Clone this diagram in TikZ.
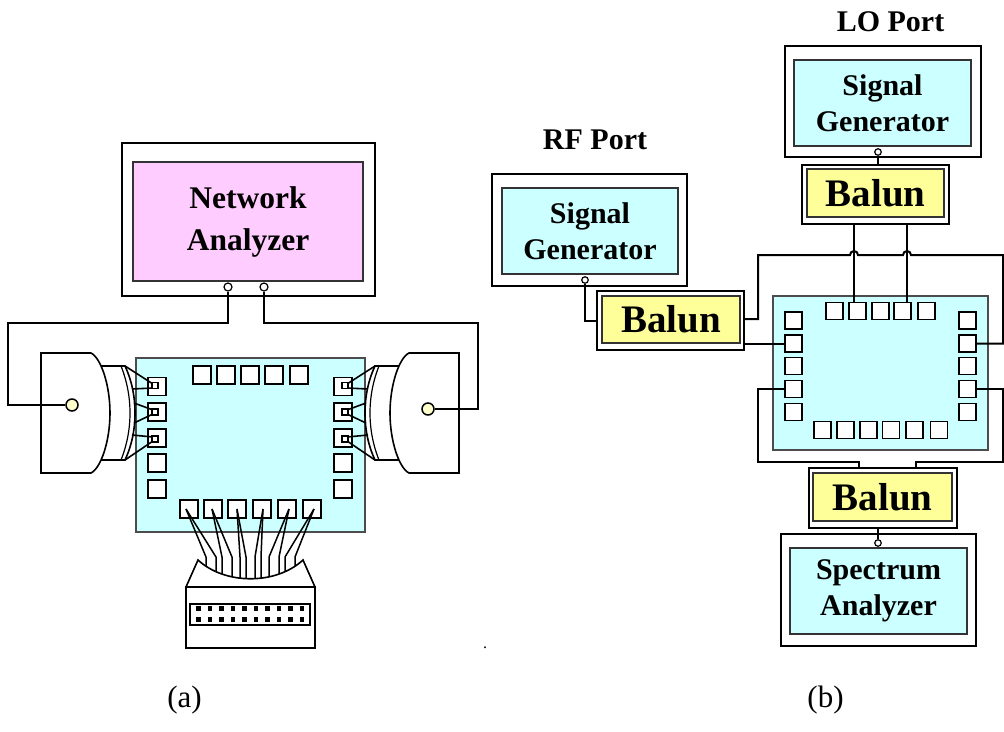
\documentclass[tikz,border=0pt]{standalone}
\usepackage{fontspec}
\setmainfont{Liberation Serif}
\definecolor{boardcyan}{HTML}{CCFFFF}
\definecolor{screenpink}{HTML}{FFCCFF}
\definecolor{balunyellow}{HTML}{FFFF99}
\definecolor{dotyellow}{HTML}{FFFFCC}

% probe head: tip with needles, then the rounded body
\newcommand\probeshape{%
  \draw[line width=1.6pt, fill=white] (95,366) -- (125,366)
     .. controls (132,381) and (135,397) .. (135,413)
     .. controls (135,429) and (132,445) .. (125,460) -- (95,460);
  \draw[line width=1.2pt] (121,366) .. controls (127,381) and (130,397) .. (130,413)
     .. controls (130,429) and (127,445) .. (121,460);
  \draw[line width=1.6pt, fill=white] (41,353) -- (91,353)
     .. controls (101,358) and (110,385) .. (110,413)
     .. controls (110,441) and (101,468) .. (91,473) -- (41,473) -- cycle;
  \draw[line width=1.6pt] (125,366) -- (153,384) (132,389) -- (153,388)
     (134,403) -- (153,410) (134,423) -- (153,414)
     (132,435) -- (153,437) (125,460) -- (153,441);
}

\begin{document}
\begin{tikzpicture}[x=1pt,y=-1pt,
  wire/.style={draw=black, line width=2pt},
  needle/.style={draw=black, line width=1.5pt},
  instframe/.style={draw=black, line width=1.3pt, fill=white, inner sep=0pt},
  screen/.style={draw=black!80, line width=1.3pt, inner sep=0pt, align=center,
     font=\bfseries\fontsize{30}{36}\selectfont},
  balunbox/.style={screen, fill=balunyellow, font=\bfseries\fontsize{39}{44}\selectfont},
  port/.style={circle, draw=black, line width=1.2pt, fill=white, minimum size=6.5pt, inner sep=0pt},
  pad/.style={draw=black, line width=1.8pt, fill=white, minimum size=17pt, inner sep=0pt},
  tinypad/.style={draw=black, line width=1.3pt, fill=white, minimum size=6pt, inner sep=0pt},
  board/.style={draw=black!70, line width=1.2pt, fill=boardcyan, inner sep=0pt},
  probedot/.style={circle, draw=black, line width=1.5pt, fill=dotyellow, minimum size=12pt, inner sep=0pt},
  labeltext/.style={font=\bfseries\fontsize{30}{36}\selectfont, inner sep=0pt},
  captiontext/.style={font=\fontsize{31}{36}\selectfont, inner sep=0pt},
]
\useasboundingbox (0,0) rectangle (1004,731);
\fill[white] (0,0) rectangle (1004,731);

% ---------------- (a) on-wafer S-parameter set-up ----------------
\node[instframe, minimum width=253pt, minimum height=153pt] (naframe) at (248.5,219.5) {};
\node[screen, fill=screenpink, minimum width=230pt, minimum height=119pt,
      font=\bfseries\fontsize{31.5}{42}\selectfont] (na) at (248,221.5) {Network\\Analyzer};
\node[port, minimum size=8pt] (naport1) at (228,287) {};
\node[port, minimum size=8pt] (naport2) at (264,287) {};

\node[board, minimum width=229pt, minimum height=174pt] (boarda) at (250.5,445) {};
\foreach \i/\y in {1/386.5,2/412,3/438,4/463,5/489} {
  \node[pad, minimum size=18pt] (aL\i) at (157,\y) {};
  \node[pad, minimum size=18pt] (aR\i) at (343,\y) {};
}
\foreach \i/\x in {1/202,2/226,3/250,4/274,5/299}
  \node[pad, minimum size=18pt] (aT\i) at (\x,375) {};
\foreach \i/\x in {1/189,2/213,3/237,4/262,5/287,6/312}
  \node[pad, minimum size=18pt] (aB\i) at (\x,509) {};

% probes
\probeshape
\begin{scope}[xshift=500pt, xscale=-1]
  \probeshape
\end{scope}
\foreach \i/\y in {1/385.5,2/412,3/439} {
  \node[tinypad] (aLn\i) at (155,\y) {};
  \node[tinypad] (aRn\i) at (345,\y) {};
}
\node[probedot] (adotL) at (72,405) {};
\node[probedot] (adotR) at (428,409) {};

\draw[wire] (naport1.south) |- (8,323) |- (adotL.west);
\draw[wire] (naport2.south) |- (478,323) |- (adotR.east);

% DC cable to the multi-pin connector
\foreach \p/\dx/\xa/\ya/\xb/\yb in {1/-3/206/565/216/571, 2/-1/222/574/232/577,
    3/0/240/579/246/579, 4/1/255/579/261/579, 5/2/269/577/279/574, 6/2/285/571/295/565} {
  \draw[needle] ([xshift=\dx pt]aB\p.center) -- (\xa,557) -- (\xa,\ya+4);
  \draw[needle] ([xshift=\dx pt]aB\p.center) -- (\xb,557) -- (\xb,\yb+4);
}
\draw[line width=1.6pt, fill=white] (186,587) -- (198,560)
   .. controls (225,585) and (276,585) .. (303,560) -- (315,587) -- cycle;
\draw[line width=1.6pt, fill=white] (186,587) rectangle (315,648);
\draw[line width=1.5pt] (190,604) rectangle (310,625);
\foreach \k in {0,...,9} {
  \fill ({196+11.55*\k},606) rectangle ++(4.5,4.5);
  \fill ({196+11.55*\k},617) rectangle ++(4.5,4.5);
}

% ---------------- (b) mixer measurement set-up ----------------
\node[labeltext] (rftitle) at (595,140) {RF Port};
\node[labeltext] (lotitle) at (890.5,22) {LO Port};

\node[instframe, minimum width=195pt, minimum height=112pt] (rfframe) at (589.5,230) {};
\node[screen, fill=boardcyan, minimum width=176pt, minimum height=86pt] (rfgen) at (590,231) {Signal\\Generator};
\node[port] (rfport) at (585,280) {};
\node[instframe, minimum width=147pt, minimum height=59pt] (rfbalframe) at (670.5,320.5) {};
\node[balunbox, minimum width=138pt, minimum height=47pt] (rfbalun) at (671,319.5) {Balun};

\node[instframe, minimum width=196pt, minimum height=111pt] (loframe) at (883,101.5) {};
\node[screen, fill=boardcyan, minimum width=177pt, minimum height=86pt] (logen) at (882.5,103) {Signal\\Generator};
\node[port] (loport) at (878,152) {};
\node[instframe, minimum width=147pt, minimum height=59pt] (lobalframe) at (875.5,194.5) {};
\node[balunbox, minimum width=137pt, minimum height=48pt] (lobalun) at (875.5,193) {Balun};

\node[board, minimum width=215pt, minimum height=154pt] (boardb) at (880.5,373) {};
\foreach \i/\y in {1/320.5,2/343.5,3/366,4/389,5/412} {
  \node[pad] (bL\i) at (793.5,\y) {};
  \node[pad] (bR\i) at (967.5,\y) {};
}
\foreach \i/\x in {1/834.5,2/857.5,3/880.5,4/902.5,5/926.5}
  \node[pad] (bT\i) at (\x,311) {};
\foreach \i/\x in {1/822.5,2/845.5,3/868.5,4/891,5/914.5,6/939}
  \node[pad] (bB\i) at (\x,430) {};

\node[instframe, minimum width=148pt, minimum height=60pt] (spbalframe) at (883,498) {};
\node[balunbox, minimum width=139pt, minimum height=48pt] (spbalun) at (882.5,497) {Balun};
\node[instframe, minimum width=195pt, minimum height=112pt] (spframe) at (878.5,590) {};
\node[screen, fill=boardcyan, minimum width=177pt, minimum height=86pt] (spec) at (878.5,591) {Spectrum\\Analyzer};
\node[port] (spport) at (878,543) {};

% connections
\draw[wire] (rfport.south) |- (rfbalframe.west);
\draw[wire] (loport.south) -- (loport.south |- lobalframe.north);
\draw[wire] (spbalframe.south -| spport.north) -- (spport.north);

\coordinate (lo1) at ([xshift=-3.5pt]bT2.north);
\coordinate (lo2) at ([xshift=4.5pt]bT4.north);
\draw[wire] (lo1 |- lobalframe.south) -- (lo1);
\draw[wire] (lo2 |- lobalframe.south) -- (lo2);

\draw[wire] ([yshift=1.5pt]rfbalframe.east) -| (758,255) -- (850,255)
   arc[start angle=180, end angle=360, radius=4] -- (903,255)
   arc[start angle=180, end angle=360, radius=4] -- (1003,255) |- (bR2.east);
\draw[wire] (rfbalframe.east |- bL2.west) -- (bL2.west);

\coordinate (spA) at ([xshift=-24pt]spbalframe.north);
\coordinate (spB) at ([xshift=33pt]spbalframe.north);
\draw[wire] (bL4.west) -| (758,462) -| (spA);
\draw[wire] (bR4.east) -| (1003,462) -| (spB);

% captions
\node[captiontext] (capa) at (184.5,700) {(a)};
\node[captiontext] (capb) at (825.5,700) {(b)};
\node[captiontext, font=\fontsize{16}{18}\selectfont] (mark) at (485,648) {.};
\end{tikzpicture}
\end{document}
